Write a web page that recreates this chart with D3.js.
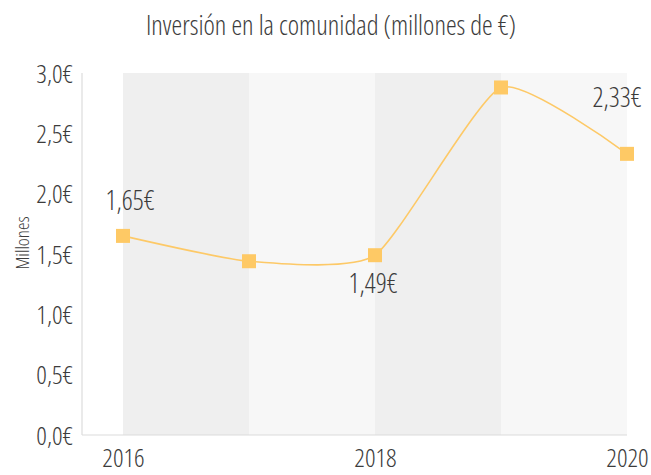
<!DOCTYPE html>
<html>
<head>
<meta charset="utf-8">
<script src="https://cdn.jsdelivr.net/npm/d3@7"></script>
<style>
  body { margin: 0; background: #fff; }
  text { font-family: "Open Sans", "Liberation Sans Narrow", sans-serif; font-stretch: 75%; font-weight: 300; fill: #3c3c3c; }
</style>
</head>
<body>
<div id="chart"></div>
<script>
// Chart data
const years = [2016, 2017, 2018, 2019, 2020];
const values = [1.65, 1.44, 1.49, 2.88, 2.33];
const xTickYears = [2016, 2018, 2020];
const yTicks = [0, 0.5, 1, 1.5, 2, 2.5, 3];
const labelledYears = [2016, 2018, 2020];

const width = 651, height = 475;
const margin = { top: 73, right: 24, bottom: 40, left: 82 };

const svg = d3.select('#chart').append('svg').attr('width', width).attr('height', height);

const fmt = (v, d) => v.toFixed(d).replace('.', ',') + '€';

// Scales
const x = d3.scaleLinear().domain([2016, 2020]).range([123, 627]);
const y = d3.scaleLinear().domain([0, 3]).range([435, margin.top]);

// Alternating background bands between years
svg.append('g').selectAll('rect')
  .data(years.slice(0, -1))
  .join('rect')
  .attr('x', (d) => x(d))
  .attr('y', y(3))
  .attr('width', (d) => x(d + 1) - x(d))
  .attr('height', y(0) - y(3))
  .attr('fill', (d, i) => (i % 2 === 0 ? '#efefef' : '#f7f7f7'));

// Axis lines
svg.append('line')
  .attr('x1', margin.left).attr('x2', margin.left)
  .attr('y1', y(3)).attr('y2', y(0))
  .attr('stroke', '#dcdcdc').attr('stroke-width', 1.2);
svg.append('line')
  .attr('x1', margin.left).attr('x2', x(2020))
  .attr('y1', y(0)).attr('y2', y(0))
  .attr('stroke', '#dcdcdc').attr('stroke-width', 1.2);

// Y axis labels
const yAxis = svg.append('g')
  .attr('transform', `translate(${margin.left},0)`)
  .call(d3.axisLeft(y).tickValues(yTicks).tickSize(0).tickPadding(9).tickFormat((d) => fmt(d, 1)));
yAxis.select('.domain').remove();
yAxis.selectAll('text').style('font-size', '26px').style('font-family', null).attr('dy', '0.35em');

// X axis labels
const xAxis = svg.append('g')
  .attr('transform', `translate(0,${y(0)})`)
  .call(d3.axisBottom(x).tickValues(xTickYears).tickSize(0).tickPadding(14).tickFormat(d3.format('d')));
xAxis.select('.domain').remove();
xAxis.selectAll('text').style('font-size', '26px').style('font-family', null);

// Y axis title
svg.append('text')
  .attr('transform', `translate(29,${(y(0) + y(3)) / 2 - 11}) rotate(-90)`)
  .attr('text-anchor', 'middle')
  .style('font-size', '19px')
  .text('Millones');

// Title
svg.append('text')
  .attr('x', 331).attr('y', 35)
  .attr('text-anchor', 'middle')
  .style('font-size', '27px')
  .text('Inversión en la comunidad (millones de €)');

// Line
const points = years.map((yr, i) => ({ year: yr, value: values[i] }));
const line = d3.line()
  .x((d) => x(d.year))
  .y((d) => y(d.value))
  .curve(d3.curveCardinal.tension(0.45));
svg.append('path').datum(points)
  .attr('d', line)
  .attr('fill', 'none')
  .attr('stroke', '#fdc967')
  .attr('stroke-width', 1.6);

// Markers
const s = 14;
svg.append('g').selectAll('rect')
  .data(points)
  .join('rect')
  .attr('x', (d) => x(d.year) - s / 2)
  .attr('y', (d) => y(d.value) - s / 2)
  .attr('width', s).attr('height', s)
  .attr('fill', '#fec965');

// Data labels (offset from their point)
const labelOffset = { 2016: [7, -26], 2018: [-2, 38], 2020: [-10, -47] };
svg.append('g').selectAll('text')
  .data(points.filter((d) => labelledYears.includes(d.year)))
  .join('text')
  .attr('x', (d) => x(d.year) + labelOffset[d.year][0])
  .attr('y', (d) => y(d.value) + labelOffset[d.year][1])
  .attr('text-anchor', 'middle')
  .style('font-size', '27px')
  .text((d) => fmt(d.value, 2));
</script>
</body>
</html>
